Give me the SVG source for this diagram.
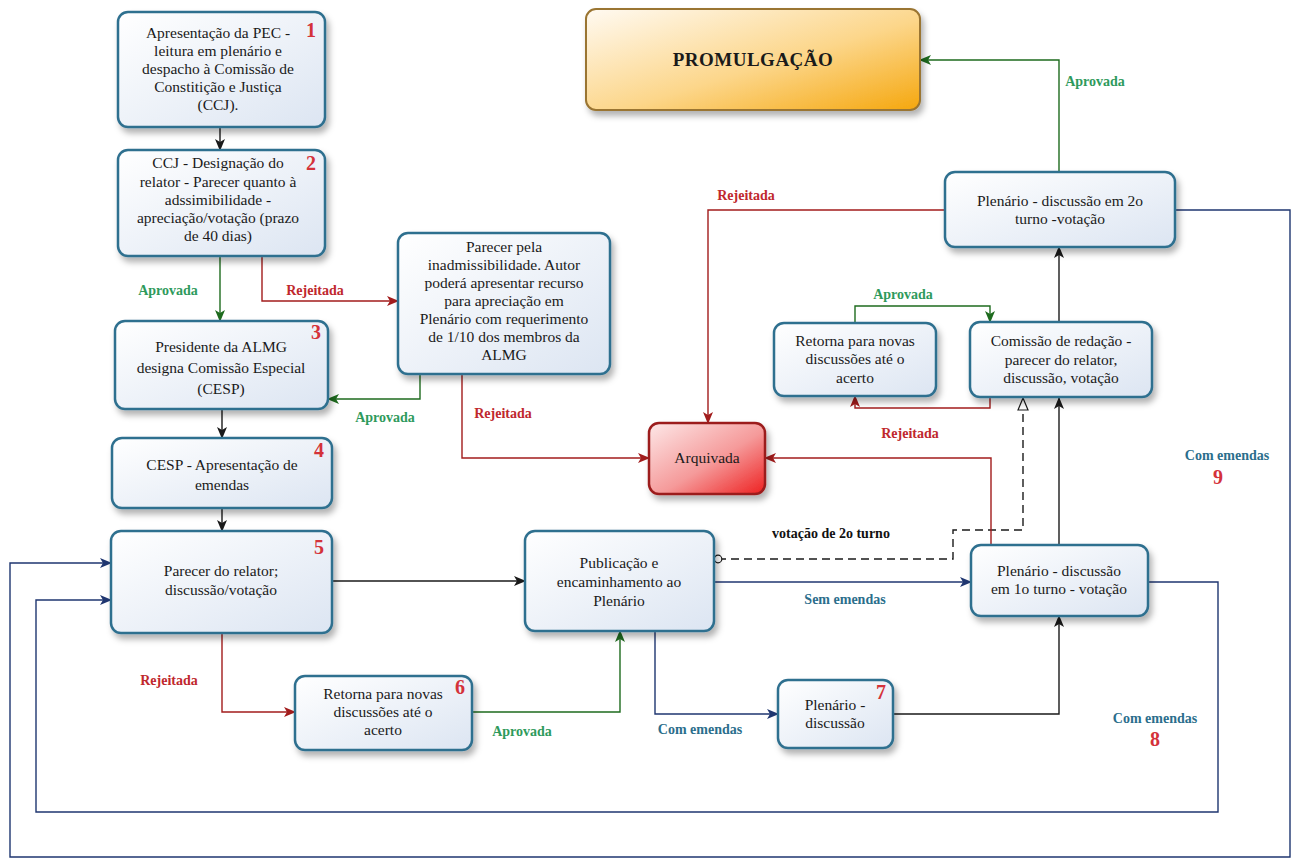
<svg xmlns="http://www.w3.org/2000/svg" width="1300" height="858" viewBox="0 0 1300 858">
<defs>
<linearGradient id="gNode" x1="0" y1="0" x2="1" y2="1"><stop offset="0" stop-color="#ffffff"/><stop offset="1" stop-color="#dce5f2"/></linearGradient>
<linearGradient id="gProm" x1="0" y1="0" x2="1" y2="1"><stop offset="0" stop-color="#fffaf2"/><stop offset="0.55" stop-color="#fcd68a"/><stop offset="1" stop-color="#f5a70e"/></linearGradient>
<linearGradient id="gArq" x1="0" y1="0" x2="1" y2="1"><stop offset="0" stop-color="#fde8e8"/><stop offset="0.55" stop-color="#f59a9a"/><stop offset="1" stop-color="#ee2020"/></linearGradient>
<filter id="sh" x="-10%" y="-10%" width="125%" height="130%"><feDropShadow dx="3" dy="5" stdDeviation="3" flood-color="#000" flood-opacity="0.3"/></filter>
<marker id="aK" viewBox="0 0 12 10" refX="11" refY="5" markerWidth="12" markerHeight="10" markerUnits="userSpaceOnUse" orient="auto"><path d="M0,0 L12,5 L0,10 L3,5 z" fill="#1a1a1a"/></marker>
<marker id="aG" viewBox="0 0 12 10" refX="11" refY="5" markerWidth="12" markerHeight="10" markerUnits="userSpaceOnUse" orient="auto"><path d="M0,0 L12,5 L0,10 L3,5 z" fill="#1e6b1e"/></marker>
<marker id="aR" viewBox="0 0 12 10" refX="11" refY="5" markerWidth="12" markerHeight="10" markerUnits="userSpaceOnUse" orient="auto"><path d="M0,0 L12,5 L0,10 L3,5 z" fill="#a21c1c"/></marker>
<marker id="aN" viewBox="0 0 12 10" refX="11" refY="5" markerWidth="12" markerHeight="10" markerUnits="userSpaceOnUse" orient="auto"><path d="M0,0 L12,5 L0,10 L3,5 z" fill="#1f3670"/></marker>
<marker id="aH" viewBox="0 0 14 12" refX="13" refY="6" markerWidth="14" markerHeight="12" markerUnits="userSpaceOnUse" orient="auto"><path d="M1,1 L13,6 L1,11 z" fill="#fff" stroke="#1a1a1a" stroke-width="1.2"/></marker>
<marker id="cO" viewBox="0 0 10 10" refX="5" refY="5" markerWidth="10" markerHeight="10" markerUnits="userSpaceOnUse" orient="auto"><circle cx="5" cy="5" r="3.8" fill="#fff" stroke="#1a1a1a" stroke-width="1.2"/></marker>
<style>
.box{fill:url(#gNode);stroke:#2f6f8f;stroke-width:2.5;filter:url(#sh)}
.prom{fill:url(#gProm);stroke:#9a7430;stroke-width:2;filter:url(#sh)}
.arq{fill:url(#gArq);stroke:#9c1c1c;stroke-width:2.5;filter:url(#sh)}
.t{font-family:"Liberation Serif",serif;font-size:15.5px;fill:#1a1a1a;text-anchor:middle}
.num{font-family:"Liberation Serif",serif;font-size:20px;font-weight:bold;fill:#d4323a;text-anchor:middle}
.lbl{font-family:"Liberation Serif",serif;font-size:14px;font-weight:bold;text-anchor:middle}
.lg{fill:#2e9a5c}.lr{fill:#c0282d}.lb{fill:#2b6e8c}.lk{fill:#111}
.c{fill:none;stroke-width:1.4}
.k{stroke:#1a1a1a;marker-end:url(#aK)}
.g{stroke:#1e6b1e;marker-end:url(#aG)}
.r{stroke:#a21c1c;marker-end:url(#aR)}
.n{stroke:#1f3670;marker-end:url(#aN)}
.d{stroke:#1a1a1a;stroke-dasharray:8,5;marker-end:url(#aH);marker-start:url(#cO)}
</style>
</defs>
<rect width="1300" height="858" fill="#ffffff"/>

<g id="connectors">
<path class="c k" d="M220,127 V150"/>
<path class="c g" d="M220,256 V321"/>
<path class="c r" d="M262,256 V301 H398"/>
<path class="c g" d="M420,374 V399 H328"/>
<path class="c k" d="M222,409 V438"/>
<path class="c k" d="M222,508 V531"/>
<path class="c r" d="M462,374 V458 H649"/>
<path class="c r" d="M222,633 V712 H295"/>
<path class="c k" d="M332,581 H525"/>
<path class="c g" d="M472,712 H620 V631"/>
<path class="c n" d="M714,582 H971"/>
<path class="c n" d="M655,631 V714 H778"/>
<path class="c k" d="M893,714 H1059 V616"/>
<path class="c d" d="M718,559 H953 V530 H1023 V398"/>
<path class="c r" d="M991,545 V458 H765"/>
<path class="c k" d="M1059,545 V398"/>
<path class="c r" d="M990,397 V408 H855 V396"/>
<path class="c g" d="M855,323 V306 H990 V322"/>
<path class="c k" d="M1059,322 V247"/>
<path class="c g" d="M1059,172 V60 H920"/>
<path class="c r" d="M945,210 H708 V423"/>
<path class="c n" d="M1175,210 H1290 V857 H10 V563 H111"/>
<path class="c n" d="M1148,582 H1218 V812 H36 V600 H111"/>
</g>

<g id="node1">
<rect class="box" x="118" y="12" width="207" height="115" rx="10"/>
<text class="t" x="218" y="38">Apresentação da PEC -</text>
<text class="t" x="218" y="56">leitura em plenário e</text>
<text class="t" x="218" y="74">despacho à Comissão de</text>
<text class="t" x="218" y="92">Constitição e Justiça</text>
<text class="t" x="218" y="110">(CCJ).</text>
<text class="num" x="311" y="37">1</text>
</g>

<g id="node2">
<rect class="box" x="118" y="150" width="207" height="106" rx="10"/>
<text class="t" x="218" y="168">CCJ - Designação do</text>
<text class="t" x="218" y="187">relator - Parecer quanto à</text>
<text class="t" x="218" y="205">adssimibilidade -</text>
<text class="t" x="218" y="223">apreciação/votação (prazo</text>
<text class="t" x="218" y="241">de 40 dias)</text>
<text class="num" x="311" y="170">2</text>
</g>

<g id="node3">
<rect class="box" x="115" y="321" width="213" height="88" rx="10"/>
<text class="t" x="221" y="352">Presidente da ALMG</text>
<text class="t" x="221" y="373">designa Comissão Especial</text>
<text class="t" x="221" y="394">(CESP)</text>
<text class="num" x="316" y="339">3</text>
</g>

<g id="node4">
<rect class="box" x="112" y="438" width="220" height="70" rx="10"/>
<text class="t" x="222" y="470">CESP - Apresentação de</text>
<text class="t" x="222" y="490">emendas</text>
<text class="num" x="319" y="457">4</text>
</g>

<g id="node5">
<rect class="box" x="111" y="531" width="221" height="102" rx="10"/>
<text class="t" x="221" y="576">Parecer do relator;</text>
<text class="t" x="221" y="595">discussão/votação</text>
<text class="num" x="319" y="554">5</text>
</g>

<g id="node6">
<rect class="box" x="295" y="676" width="177" height="74" rx="10"/>
<text class="t" x="383" y="699">Retorna para novas</text>
<text class="t" x="383" y="717">discussões até o</text>
<text class="t" x="383" y="735">acerto</text>
<text class="num" x="460" y="694">6</text>
</g>

<g id="nodeParecer">
<rect class="box" x="398" y="233" width="212" height="141" rx="10"/>
<text class="t" x="504" y="252">Parecer pela</text>
<text class="t" x="504" y="270">inadmissibilidade. Autor</text>
<text class="t" x="504" y="288">poderá apresentar recurso</text>
<text class="t" x="504" y="306">para apreciação em</text>
<text class="t" x="504" y="324">Plenário com requerimento</text>
<text class="t" x="504" y="342">de 1/10 dos membros da</text>
<text class="t" x="504" y="360">ALMG</text>
</g>

<g id="nodePublicacao">
<rect class="box" x="525" y="531" width="189" height="100" rx="10"/>
<text class="t" x="619" y="568">Publicação e</text>
<text class="t" x="619" y="587">encaminhamento ao</text>
<text class="t" x="619" y="606">Plenário</text>
</g>

<g id="node7">
<rect class="box" x="778" y="680" width="115" height="68" rx="10"/>
<text class="t" x="835" y="710">Plenário -</text>
<text class="t" x="835" y="728">discussão</text>
<text class="num" x="881" y="699">7</text>
</g>

<g id="nodePlenario1">
<rect class="box" x="971" y="545" width="177" height="71" rx="10"/>
<text class="t" x="1059" y="576">Plenário - discussão</text>
<text class="t" x="1059" y="594">em 1o turno - votação</text>
</g>

<g id="nodeRetorna">
<rect class="box" x="774" y="323" width="162" height="73" rx="10"/>
<text class="t" x="855" y="346">Retorna para novas</text>
<text class="t" x="855" y="364">discussões até o</text>
<text class="t" x="855" y="383">acerto</text>
</g>

<g id="nodeComissao">
<rect class="box" x="970" y="322" width="182" height="75" rx="10"/>
<text class="t" x="1061" y="346">Comissão de redação -</text>
<text class="t" x="1061" y="365">parecer do relator,</text>
<text class="t" x="1061" y="383">discussão, votação</text>
</g>

<g id="nodePlenario2">
<rect class="box" x="945" y="172" width="230" height="75" rx="10"/>
<text class="t" x="1060" y="206">Plenário - discussão em 2o</text>
<text class="t" x="1060" y="224">turno -votação</text>
</g>

<g id="nodePromulgacao">
<rect class="prom" x="586" y="9" width="334" height="101" rx="10"/>
<text x="753" y="66" style="font-family:'Liberation Serif',serif;font-size:19px;font-weight:bold;fill:#1a1a1a;text-anchor:middle;letter-spacing:0.5px">PROMULGAÇÃO</text>
</g>

<g id="nodeArquivada">
<rect class="arq" x="649" y="423" width="116" height="71" rx="10"/>
<text class="t" x="707" y="463">Arquivada</text>
</g>

<g id="labels">
<text class="lbl lg" x="168" y="295">Aprovada</text>
<text class="lbl lr" x="315" y="295">Rejeitada</text>
<text class="lbl lg" x="385" y="422">Aprovada</text>
<text class="lbl lr" x="503" y="418">Rejeitada</text>
<text class="lbl lr" x="169" y="685">Rejeitada</text>
<text class="lbl lg" x="522" y="736">Aprovada</text>
<text class="lbl lb" x="700" y="734">Com emendas</text>
<text class="lbl lb" x="845" y="604">Sem emendas</text>
<text class="lbl lk" x="831" y="538">votação de 2o turno</text>
<text class="lbl lr" x="910" y="438">Rejeitada</text>
<text class="lbl lg" x="903" y="299">Aprovada</text>
<text class="lbl lr" x="746" y="200">Rejeitada</text>
<text class="lbl lg" x="1095" y="86">Aprovada</text>
<text class="lbl lb" x="1227" y="460">Com emendas</text>
<text class="num" x="1218" y="484">9</text>
<text class="lbl lb" x="1155" y="723">Com emendas</text>
<text class="num" x="1155" y="746">8</text>
</g>
</svg>
